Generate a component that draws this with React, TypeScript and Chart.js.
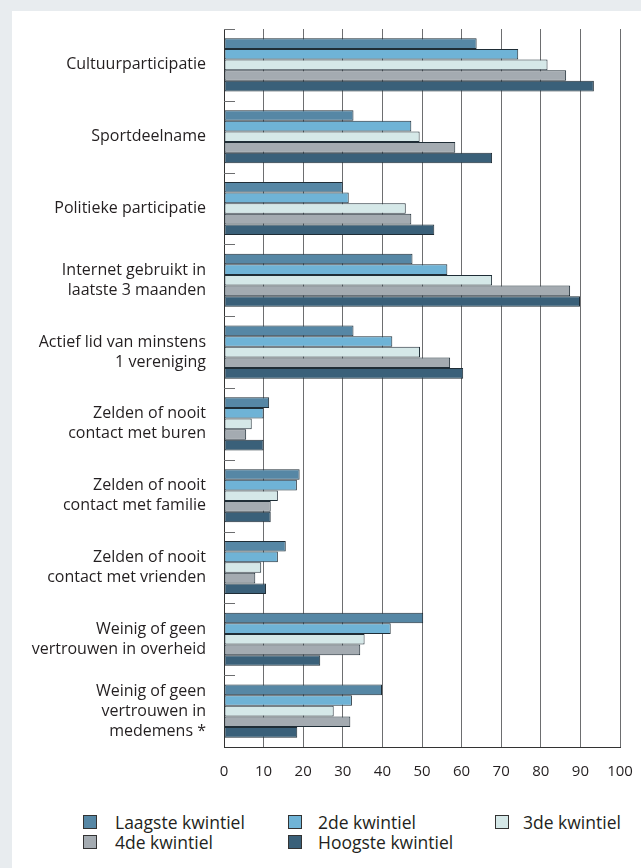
import React, { useEffect, useRef } from "react";
import { Chart, registerables } from "chart.js";

Chart.register(...registerables);

const categories: string[][] = [
  ["Cultuurparticipatie"],
  ["Sportdeelname"],
  ["Politieke participatie"],
  ["Internet gebruikt in", "laatste 3 maanden"],
  ["Actief lid van minstens", "1 vereniging"],
  ["Zelden of nooit", "contact met buren"],
  ["Zelden of nooit", "contact met familie"],
  ["Zelden of nooit", "contact met vrienden"],
  ["Weinig of geen", "vertrouwen in overheid"],
  ["Weinig of geen", "vertrouwen in", "medemens *"],
];

const laagste = [63.8, 32.7, 30.0, 47.6, 32.7, 11.4, 19.1, 15.6, 50.3, 39.9];
const tweede = [74.3, 47.3, 31.5, 56.4, 42.5, 10.0, 18.4, 13.6, 42.1, 32.3];
const derde = [81.7, 49.4, 45.9, 67.7, 49.5, 7.0, 13.6, 9.4, 35.5, 27.7];
const vierde = [86.4, 58.4, 47.3, 87.4, 57.1, 5.6, 11.8, 7.9, 34.4, 31.9];
const hoogste = [93.4, 67.7, 53.1, 89.9, 60.4, 10.0, 11.8, 10.6, 24.3, 18.5];

const seriesNames = ["Laagste kwintiel", "2de kwintiel", "3de kwintiel", "4de kwintiel", "Hoogste kwintiel"];
const seriesColors = ["#5687a5", "#6fb3d6", "#d5e8e8", "#a4abb1", "#3a6079"];
const xTicks = [0, 10, 20, 30, 40, 50, 60, 70, 80, 90, 100];

const FONT = "'Open Sans', 'Noto Sans', sans-serif";
const TEXT = "#231f20";

const categoryTicks = {
  id: "categoryTicks",
  afterDraw(chart: any) {
    const y = chart.scales.y;
    const ctx = chart.ctx;
    const n = categories.length;
    const step = n > 1 ? y.getPixelForValue(1) - y.getPixelForValue(0) : y.height;
    ctx.save();
    ctx.strokeStyle = "#6d6e70";
    ctx.lineWidth = 1;
    for (let i = 0; i < n; i++) {
      const py = Math.round(y.getPixelForValue(i) - step / 2) + 0.5;
      ctx.beginPath();
      ctx.moveTo(chart.chartArea.left, py);
      ctx.lineTo(chart.chartArea.left + 11, py);
      ctx.stroke();
    }
    ctx.restore();
  },
};

export default function App() {
  const ref = useRef<HTMLCanvasElement | null>(null);

  useEffect(() => {
    document.body.style.margin = "0";
    const canvas = ref.current;
    if (!canvas) return;
    const all = [laagste, tweede, derde, vierde, hoogste];
    const chart = new Chart(canvas, {
      type: "bar",
      data: {
        labels: categories,
        datasets: all.map((d, i) => ({
          label: seriesNames[i],
          data: d,
          backgroundColor: seriesColors[i],
          borderColor: "#1f2d36",
          borderWidth: 1,
          borderSkipped: false,
          barPercentage: 1,
          categoryPercentage: 0.74,
        })),
      },
      options: {
        indexAxis: "y",
        responsive: false,
        animation: false,
        maintainAspectRatio: false,
        layout: { padding: { top: 29, right: 21, left: 0, bottom: 0 } },
        plugins: { legend: { display: false }, tooltip: { enabled: false } },
        scales: {
          x: {
            type: "linear",
            min: 0,
            max: 100,
            afterBuildTicks: (s: any) => {
              s.ticks = xTicks.map((v) => ({ value: v }));
            },
            afterFit: (s: any) => {
              s.height = 53;
              s.paddingLeft = 0;
              s.paddingRight = 0;
            },
            ticks: {
              font: { family: FONT, size: 15 },
              color: TEXT,
              padding: 16,
            },
            grid: { color: "#6d6e70", lineWidth: 1, drawTicks: false },
            border: { display: true, color: "#333", width: 1 },
          },
          y: {
            type: "category",
            afterFit: (s: any) => {
              s.width = 224;
              s.paddingTop = 0;
              s.paddingBottom = 0;
            },
            ticks: {
              font: { family: FONT, size: 16, lineHeight: 1.25 },
              color: TEXT,
              padding: 18,
            },
            grid: { drawOnChartArea: false, drawTicks: false },
            border: { display: true, color: "#333", width: 1 },
          },
        },
      },
      plugins: [categoryTicks],
    } as any);
    return () => chart.destroy();
  }, []);

  const legendPos = [
    { box: 83, text: 115, row: 0 },
    { box: 288, text: 318, row: 0 },
    { box: 495, text: 523, row: 0 },
    { box: 83, text: 115, row: 1 },
    { box: 288, text: 318, row: 1 },
  ];

  return (
    <div style={{ position: "relative", width: 641, height: 868, background: "#e8ecef", overflow: "hidden" }}>
      <div style={{ position: "absolute", left: 12, top: 11, right: 0, bottom: 0, background: "#fff" }} />
      <canvas ref={ref} width={641} height={800} style={{ position: "absolute", left: 0, top: 0, width: 641, height: 800 }} />
      {seriesNames.map((name, i) => {
        const p = legendPos[i];
        const cy = 822 + p.row * 20;
        return (
          <React.Fragment key={name}>
            <div
              style={{
                position: "absolute",
                left: p.box,
                top: cy - 7,
                width: 14,
                height: 14,
                boxSizing: "border-box",
                border: "1px solid #333",
                background: seriesColors[i],
              }}
            />
            <div
              style={{
                position: "absolute",
                left: p.text,
                top: cy - 11,
                height: 22,
                lineHeight: "22px",
                fontFamily: FONT,
                fontSize: 17.5,
                color: TEXT,
                whiteSpace: "nowrap",
              }}
            >
              {name}
            </div>
          </React.Fragment>
        );
      })}
    </div>
  );
}
